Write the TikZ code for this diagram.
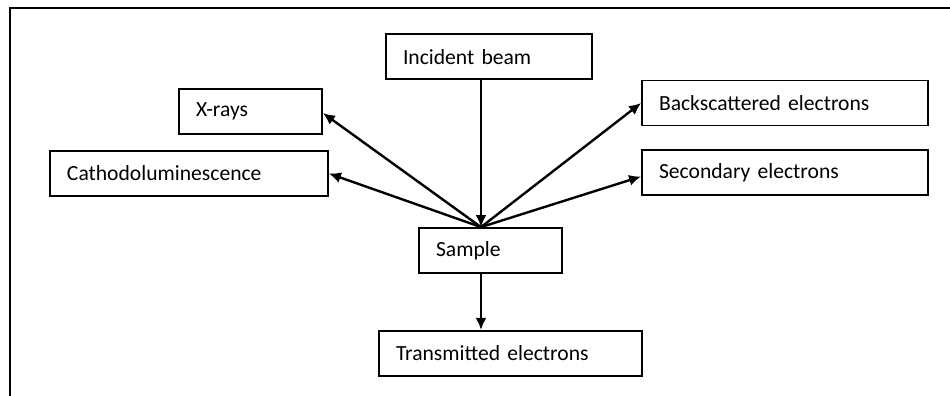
\documentclass[tikz,border=0pt]{standalone}
\usepackage{fontspec}
\setmainfont{Carlito}
\usetikzlibrary{arrows.meta,positioning,calc}

\begin{document}
\begin{tikzpicture}[x=0.5pt,y=-0.5pt,
    box/.style={draw,line width=0.9pt,rectangle,align=left,
      inner xsep=8.5pt,minimum height=22.5pt,font=\fontsize{10.8}{12}\selectfont},
    beam/.style={line width=1.2pt,-{Latex[length=6pt,width=5.5pt]}}]
  \useasboundingbox (0,0) rectangle (950,396);
  % open frame, top and left only
  \draw[line width=0.75pt] (950,8) -- (10,8) -- (10,396);

  \node[box,text width=54.5pt] (sample) at (490.5,250.5) {Sample};
  \node[box,text width=86pt,above=73.5pt of sample.north,anchor=south,xshift=-0.75pt]
    (incident) {Incident beam};
  \node[box,text width=114.5pt,below=28pt of sample.south,anchor=north,xshift=10pt]
    (transm) {Transmitted electrons};

  \node[box,text width=54.5pt] (xrays) at (250.5,111.5) {X-rays};
  \node[box,text width=122pt] (cathodo) at (189,173.5) {Cathodoluminescence};
  \node[box,text width=126pt] (backsc) at (785,103) {Backscattered electrons};
  \node[box,text width=126pt] (secondary) at (785,172.5) {Secondary electrons};

  % everything meets at one point on top of the sample
  \coordinate (hub) at ([xshift=-4.75pt]sample.north);

  \draw[beam] (incident.south -| hub) -- (hub);
  \draw[beam] (hub) -- ([yshift=-0.75pt]xrays.east);
  \draw[beam] (hub) -- (cathodo.east);
  \draw[beam] (hub) -- (backsc.west);
  \draw[beam] (hub) -- ([yshift=-2pt]secondary.west);
  \draw[beam] (sample.south -| hub) -- (transm.north -| hub);
\end{tikzpicture}
\end{document}
